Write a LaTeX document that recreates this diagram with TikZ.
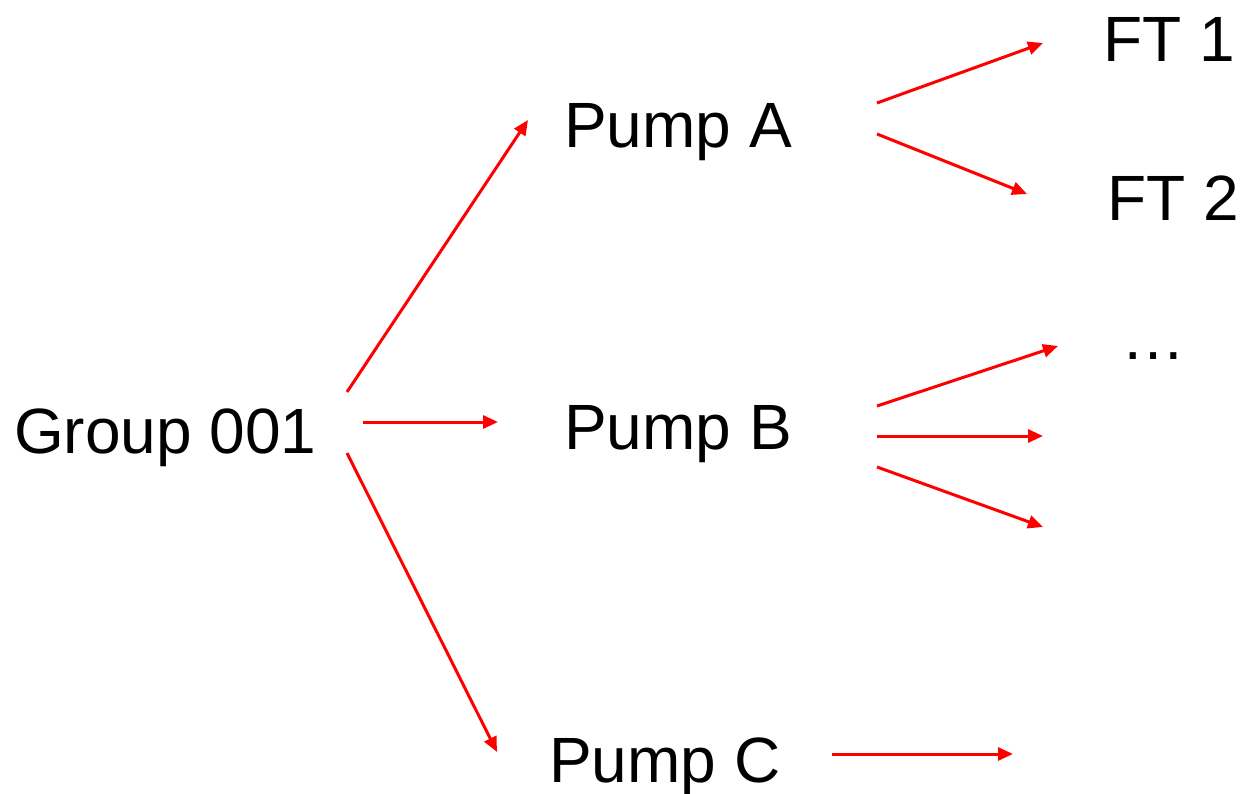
\documentclass[tikz,border=0pt]{standalone}
\usepackage{fontspec}
\setmainfont{Liberation Sans}
\usetikzlibrary{arrows.meta}
\begin{document}
\begin{tikzpicture}[x=1pt,y=-1pt,
  lbl/.style={anchor=base west,inner sep=0pt,font=\fontsize{64}{72}\selectfont},
  conn/.style={draw=red,line width=3pt,-{Triangle[length=15pt,width=13pt]}}]
\useasboundingbox (0,0) rectangle (1243,794);
\node[lbl] (g) at (14,453) {Group 001};
\node[lbl] (a) at (564,148) {Pump A};
\node[lbl] (b) at (564,449) {Pump B};
\node[lbl] (c) at (549,782) {Pump C};
\node[lbl] (f1) at (1103,62) {FT 1};
\node[lbl] (f2) at (1107,221) {FT 2};
\node[lbl] (dots) at (1121,360) {…};
% coordinates for connector ends
\coordinate (gA) at (347,392); \coordinate (aIn) at (528,120);
\coordinate (gB) at (363,422); \coordinate (bIn) at (498,422);
\coordinate (gC) at (347,453); \coordinate (cIn) at (497,752);
\coordinate (cOut) at (832,754); \coordinate (cEnd) at (1013,754);
\coordinate (a1) at (877,103); \coordinate (f1In) at (1043,43);
\coordinate (a2) at (877,134); \coordinate (f2In) at (1027,194);
\coordinate (b1) at (877,406); \coordinate (dIn) at (1058,346);
\coordinate (b2) at (877,436); \coordinate (b2End) at (1043,436);
\coordinate (b3) at (877,467); \coordinate (b3End) at (1043,527);
\draw[conn] (gA) -- (aIn);
\draw[conn] (gB) -- (bIn);
\draw[conn] (gC) -- (cIn);
\draw[conn] (cOut) -- (cEnd);
\draw[conn] (a1) -- (f1In);
\draw[conn] (a2) -- (f2In);
\draw[conn] (b1) -- (dIn);
\draw[conn] (b2) -- (b2End);
\draw[conn] (b3) -- (b3End);
\end{tikzpicture}
\end{document}
